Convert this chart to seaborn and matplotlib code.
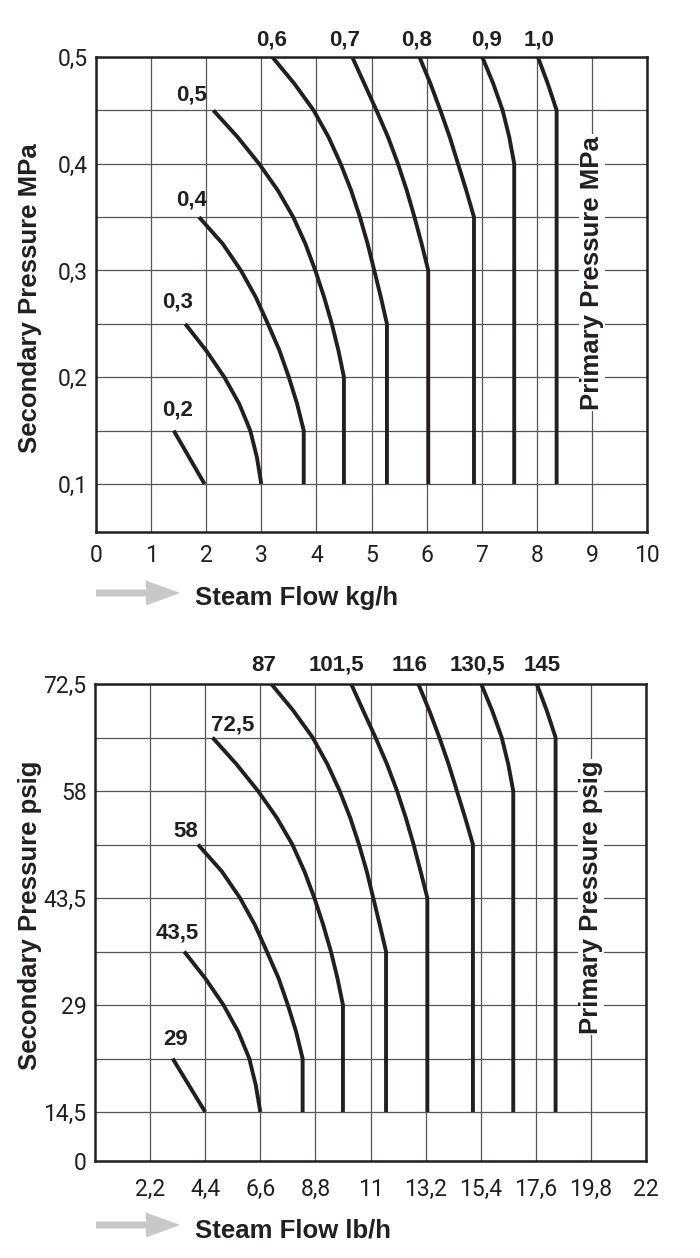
import matplotlib
matplotlib.use("Agg")
import matplotlib.pyplot as plt
from matplotlib.patches import FancyArrow
import seaborn as sns
import pandas as pd

sns.set_style("white")
plt.rcParams["font.family"] = ["Liberation Sans", "DejaVu Sans"]

# ---------------- data: metric chart (kg/h vs MPa) ----------------
kg_primary_labels = ["0,2", "0,3", "0,4", "0,5", "0,6", "0,7", "0,8", "0,9", "1,0"]
kg_c02_x = [1.41, 1.97]
kg_c02_y = [0.15, 0.10]
kg_c03_x = [1.62, 2.0, 2.33, 2.6, 2.8, 2.92, 3.0]
kg_c03_y = [0.25, 0.225, 0.2, 0.175, 0.15, 0.125, 0.1]
kg_c04_x = [1.87, 2.3, 2.63, 2.9, 3.12, 3.33, 3.5, 3.65, 3.77, 3.77]
kg_c04_y = [0.35, 0.325, 0.3, 0.275, 0.25, 0.225, 0.2, 0.175, 0.15, 0.1]
kg_c05_x = [2.13, 2.57, 2.96, 3.3, 3.58, 3.8, 3.98, 4.14, 4.28, 4.4, 4.5, 4.5]
kg_c05_y = [0.45, 0.425, 0.4, 0.375, 0.35, 0.325, 0.3, 0.275, 0.25, 0.225, 0.2, 0.1]
kg_c06_x = [3.2, 3.6, 3.95, 4.22, 4.44, 4.63, 4.79, 4.93, 5.05, 5.17, 5.28, 5.28]
kg_c06_y = [0.5, 0.475, 0.45, 0.425, 0.4, 0.375, 0.35, 0.325, 0.3, 0.275, 0.25, 0.1]
kg_c07_x = [4.65, 4.87, 5.09, 5.3, 5.48, 5.64, 5.78, 5.91, 6.03, 6.03]
kg_c07_y = [0.5, 0.475, 0.45, 0.425, 0.4, 0.375, 0.35, 0.325, 0.3, 0.1]
kg_c08_x = [5.87, 6.07, 6.25, 6.42, 6.57, 6.72, 6.86, 6.86]
kg_c08_y = [0.5, 0.475, 0.45, 0.425, 0.4, 0.375, 0.35, 0.1]
kg_c09_x = [7.01, 7.21, 7.38, 7.5, 7.59, 7.59]
kg_c09_y = [0.5, 0.475, 0.45, 0.425, 0.4, 0.1]
kg_c10_x = [8.02, 8.2, 8.36, 8.36]
kg_c10_y = [0.5, 0.475, 0.45, 0.1]
kg_label_x = [1.48, 1.48, 1.74, 1.74, 3.19, 4.52, 5.82, 7.09, 8.04]
kg_label_y = [0.169, 0.2705, 0.366, 0.464, 0.516, 0.516, 0.516, 0.516, 0.516]
kg_xticks = [0, 1, 2, 3, 4, 5, 6, 7, 8, 9, 10]
kg_xticklabels = ["0", "1", "2", "3", "4", "5", "6", "7", "8", "9", "10"]
mpa_yticks = [0.1, 0.2, 0.3, 0.4, 0.5]
mpa_yticklabels = ["0,1", "0,2", "0,3", "0,4", "0,5"]
mpa_ygrid_minor = [0.15, 0.25, 0.35, 0.45]
mpa_ylim = [0.055, 0.5]

# ---------------- data: imperial chart (lb/h vs psig) ----------------
lb_primary_labels = ["29", "43,5", "58", "72,5", "87", "101,5", "116", "130,5", "145"]
lb_c29_x = [3.1, 4.4]
lb_c29_y = [21.75, 14.5]
lb_c43_x = [3.56, 4.4, 5.13, 5.72, 6.16, 6.42, 6.6]
lb_c43_y = [36.25, 32.625, 29, 25.375, 21.75, 18.125, 14.5]
lb_c58_x = [4.11, 5.06, 5.79, 6.38, 6.86, 7.33, 7.7, 8.03, 8.29, 8.29]
lb_c58_y = [50.75, 47.125, 43.5, 39.875, 36.25, 32.625, 29, 25.375, 21.75, 14.5]
lb_c72_x = [4.69, 5.65, 6.51, 7.26, 7.88, 8.36, 8.76, 9.11, 9.42, 9.68, 9.9, 9.9]
lb_c72_y = [65.25, 61.625, 58, 54.375, 50.75, 47.125, 43.5, 39.875, 36.25, 32.625, 29, 14.5]
lb_c87_x = [7.04, 7.92, 8.69, 9.28, 9.77, 10.19, 10.54, 10.85, 11.11, 11.37, 11.62, 11.62]
lb_c87_y = [72.5, 68.875, 65.25, 61.625, 58, 54.375, 50.75, 47.125, 43.5, 39.875, 36.25, 14.5]
lb_c101_x = [10.23, 10.71, 11.2, 11.66, 12.06, 12.41, 12.72, 13.0, 13.27, 13.27]
lb_c101_y = [72.5, 68.875, 65.25, 61.625, 58, 54.375, 50.75, 47.125, 43.5, 14.5]
lb_c116_x = [12.91, 13.35, 13.75, 14.12, 14.45, 14.78, 15.09, 15.09]
lb_c116_y = [72.5, 68.875, 65.25, 61.625, 58, 54.375, 50.75, 14.5]
lb_c130_x = [15.42, 15.86, 16.24, 16.5, 16.7, 16.7]
lb_c130_y = [72.5, 68.875, 65.25, 61.625, 58, 14.5]
lb_c145_x = [17.64, 18.04, 18.39, 18.39]
lb_c145_y = [72.5, 68.875, 65.25, 14.5]
lb_label_x = [3.23, 3.27, 3.62, 5.49, 6.73, 9.65, 12.57, 15.28, 17.85]
lb_label_y = [24.26, 38.76, 52.45, 66.95, 75.07, 75.07, 75.07, 75.07, 75.07]
lb_xticks = [2.2, 4.4, 6.6, 8.8, 11, 13.2, 15.4, 17.6, 19.8, 22]
lb_xticklabels = ["2,2", "4,4", "6,6", "8,8", "11", "13,2", "15,4", "17,6", "19,8", "22"]
psig_yticks = [7.86, 14.5, 29, 43.5, 58, 72.5]
psig_yticklabels = ["0", "14,5", "29", "43,5", "58", "72,5"]
psig_ygrid_minor = [21.75, 36.25, 50.75, 65.25]
psig_ylim = [7.86, 72.5]

INK = "#231f20"
GRID = "#5a5352"
TICKFONT = ["Liberation Sans Narrow", "Roboto", "DejaVu Sans"]

W, H = 700, 1258
fig = plt.figure(figsize=(W / 100, H / 100), dpi=100)
ax1 = fig.add_axes([96 / W, (H - 532) / H, 551 / W, 475 / H])
ax2 = fig.add_axes([95 / W, (H - 1161) / H, 551 / W, 477 / H])


def build(curves_x, curves_y, labels):
    frames = []
    for i, (xs, ys) in enumerate(zip(curves_x, curves_y)):
        frames.append(pd.DataFrame({"flow": xs, "pressure": ys, "curve": labels[i]}))
    return pd.concat(frames, ignore_index=True)


def draw(ax, df, labels, lab_x, lab_y, xticks, xticklabels, xlim,
         yticks, yticklabels, yminor, ylim, xpad, prim_text, prim_x, prim_y):
    for lab in labels:
        sub = df[df["curve"] == lab]
        sns.lineplot(data=sub, x="flow", y="pressure", sort=False, estimator=None,
                     color=INK, lw=2.8, ax=ax, legend=False,
                     solid_joinstyle="round", solid_capstyle="butt", zorder=3)
    for t, x, y in zip(labels, lab_x, lab_y):
        ax.text(x, y, t, ha="center", va="center", fontsize=16,
                fontweight="bold", color=INK, clip_on=False, zorder=4)
    ax.set_xlim(*xlim)
    ax.set_ylim(*ylim)
    ax.set_xticks(xticks)
    ax.set_xticklabels(xticklabels, family=TICKFONT, fontsize=16.5, color=INK)
    ax.set_yticks(yticks)
    ax.set_yticklabels(yticklabels, family=TICKFONT, fontsize=16.5, color=INK)
    ax.set_yticks(yminor, minor=True)
    ax.tick_params(axis="both", which="both", length=0)
    ax.tick_params(axis="x", pad=xpad)
    ax.tick_params(axis="y", pad=6)
    ax.grid(True, which="both", color=GRID, lw=0.9, zorder=1)
    ax.set_axisbelow(True)
    ax.set_xlabel("")
    ax.set_ylabel("")
    for s in ax.spines.values():
        s.set_visible(True)
        s.set_color(INK)
        s.set_linewidth(1.8)
    ax.text(prim_x, prim_y, prim_text, rotation=90, ha="center", va="center",
            fontsize=18.5, fontweight="bold", color=INK, zorder=4,
            bbox=dict(boxstyle="square,pad=0.05", fc="white", ec="none"))


df_kg = build([kg_c02_x, kg_c03_x, kg_c04_x, kg_c05_x, kg_c06_x, kg_c07_x, kg_c08_x, kg_c09_x, kg_c10_x],
              [kg_c02_y, kg_c03_y, kg_c04_y, kg_c05_y, kg_c06_y, kg_c07_y, kg_c08_y, kg_c09_y, kg_c10_y],
              kg_primary_labels)
df_lb = build([lb_c29_x, lb_c43_x, lb_c58_x, lb_c72_x, lb_c87_x, lb_c101_x, lb_c116_x, lb_c130_x, lb_c145_x],
              [lb_c29_y, lb_c43_y, lb_c58_y, lb_c72_y, lb_c87_y, lb_c101_y, lb_c116_y, lb_c130_y, lb_c145_y],
              lb_primary_labels)

draw(ax1, df_kg, kg_primary_labels, kg_label_x, kg_label_y, kg_xticks, kg_xticklabels, (0, 10),
     mpa_yticks, mpa_yticklabels, mpa_ygrid_minor, mpa_ylim, 9, "Primary Pressure MPa", 9.0, 0.298)
draw(ax2, df_lb, lb_primary_labels, lb_label_x, lb_label_y, lb_xticks, lb_xticklabels, (0, 22),
     psig_yticks, psig_yticklabels, psig_ygrid_minor, psig_ylim, 12, "Primary Pressure psig", 19.8, 43.6)

# y axis titles
fig.text(30 / W, 1 - 298 / H, "Secondary Pressure MPa", rotation=90, ha="center", va="center",
         fontsize=18.5, fontweight="bold", color=INK)
fig.text(30 / W, 1 - 915 / H, "Secondary Pressure psig", rotation=90, ha="center", va="center",
         fontsize=18.5, fontweight="bold", color=INK)

# x axis titles with grey arrows
for ybase, yarrow, txt in [(605, 593, "Steam Flow kg/h"), (1238, 1225, "Steam Flow lb/h")]:
    fig.text(195 / W, 1 - ybase / H, txt, ha="left", va="baseline",
             fontsize=18.5, fontweight="bold", color=INK)
    arr = FancyArrow(96 / W, 1 - yarrow / H, 84 / W, 0, width=7 / H, head_width=25 / H,
                     head_length=34 / W, length_includes_head=True,
                     transform=fig.transFigure, color="#c8c8c8", lw=0)
    fig.patches.append(arr)

fig.savefig("out.png", dpi=100)
